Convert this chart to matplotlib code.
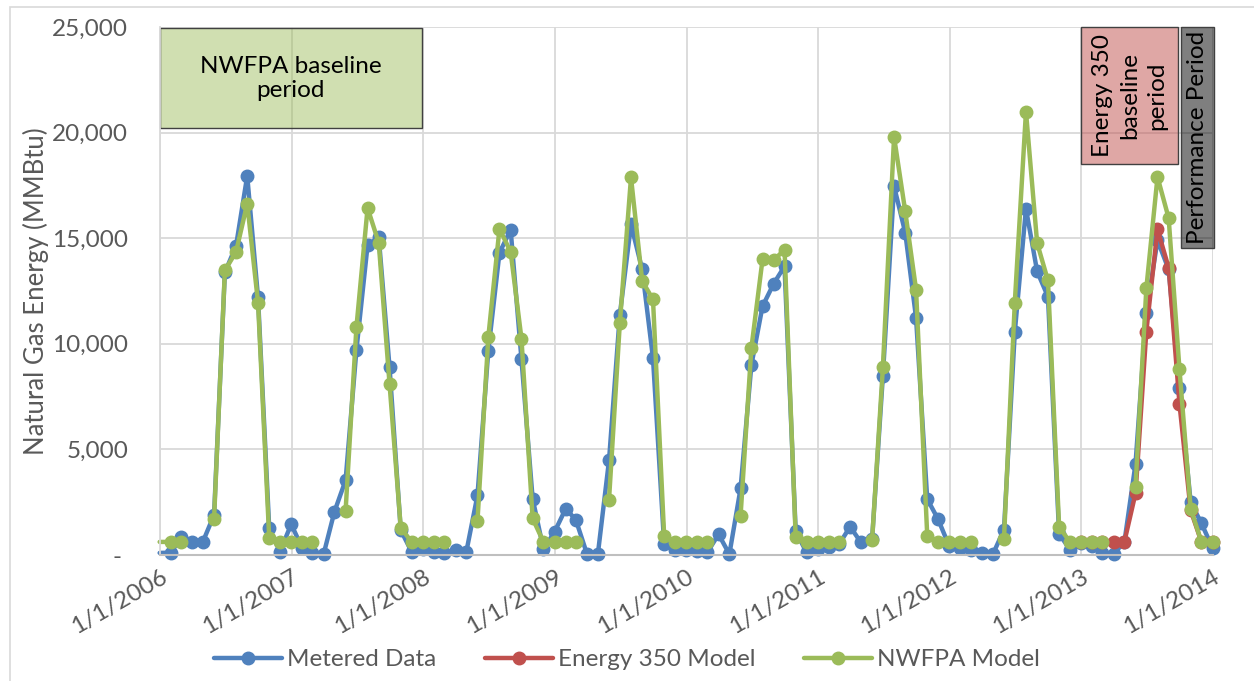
import numpy as np
import pandas as pd
import matplotlib
matplotlib.use('Agg')
import matplotlib.pyplot as plt
import matplotlib.dates as mdates
from matplotlib.patches import Rectangle

nan = np.nan

# month-end readings, 12/31/2005 .. 12/31/2013
dates = pd.date_range('2005-12-31', periods=97, freq='ME')

metered = [
    100,
    110, 830, 630, 630, 1900, 13380, 14640, 17950, 12200, 1290, 160, 1460,     # 2006
    315, 80, 40, 2050, 3540, 9700, 14670, 15050, 8880, 1180, 160, 300,         # 2007
    160, 100, 250, 150, 2830, 9670, 14310, 15400, 9270, 2670, 280, 1100,       # 2008
    2200, 1660, 40, 40, 4480, 11380, 15650, 13520, 9320, 520, 250, 250,        # 2009
    200, 130, 980, 40, 3150, 8990, 11780, 12850, 13670, 1120, 130, 300,        # 2010
    400, 500, 1340, 600, 740, 8500, 17460, 15260, 11230, 2650, 1700, 420,      # 2011
    330, 260, 110, 30, 1200, 10550, 16400, 13430, 12230, 1000, 260, 550,       # 2012
    450, 100, 60, 600, 4320, 11480, 14900, 13520, 7900, 2500, 1500, 320,       # 2013
]

energy350 = [nan] * 84 + [
    620,
    620, 620, 620, 620, 2920, 10580, 15420, 13600, 7150, 2120, 620, 620,       # 2013
]

nwfpa = [
    620,
    620, 620, nan, nan, 1700, 13480, 14350, 16640, 11950, 820, 620, 620,       # 2006
    620, 620, nan, nan, 2100, 10780, 16430, 14780, 8080, 1300, 620, 620,       # 2007
    620, 620, nan, nan, 1620, 10320, 15450, 14350, 10250, 1730, 620, 620,      # 2008
    620, 620, nan, nan, 2620, 10980, 17880, 12980, 12100, 900, 620, 620,       # 2009
    620, 620, nan, nan, 1850, 9800, 14000, 13960, 14460, 840, 620, 620,        # 2010
    620, 620, nan, nan, 700, 8890, 19800, 16270, 12570, 920, 620, 620,         # 2011
    620, 620, nan, nan, 770, 11950, 21000, 14770, 13000, 1330, 620, 620,       # 2012
    620, 620, nan, nan, 3220, 12620, 17900, 15950, 8790, 2200, 620, 620,       # 2013
]

series = [
    ('Metered Data', metered, '#4F81BD'),
    ('Energy 350 Model', energy350, '#C0504D'),
    ('NWFPA Model', nwfpa, '#9BBB59'),
]

plt.rcParams['font.family'] = ['Lato', 'DejaVu Sans']
grey = '#595959'
fs = 17.5

fig = plt.figure(figsize=(12.54, 6.81), dpi=100)
ax = fig.add_axes([0.1276, 0.185, 0.8397, 0.7753])

xmin = pd.Timestamp('2006-01-01')
xmax = pd.Timestamp('2014-01-01')
shown = list(dates >= xmin)

for label, vals, color in series:
    ax.plot(dates, vals, color=color, lw=3.2, marker='o', ms=9,
            markevery=shown, clip_on=False, label=label,
            solid_joinstyle='round', solid_capstyle='round')

ax.set_xlim(xmin, xmax)
ax.set_ylim(0, 25000)

year_ticks = pd.date_range(xmin, xmax, freq='YS')
ax.set_xticks(year_ticks)
ax.set_xticklabels([f'{d.month}/{d.day}/{d.year}' for d in year_ticks],
                   rotation=30, ha='right', va='top', rotation_mode='anchor')
ax.set_yticks(np.arange(0, 25001, 5000))
ax.yaxis.set_major_formatter(lambda v, _: '- ' if v == 0 else f'{v:,.0f}')
ax.tick_params(axis='both', length=0, labelsize=fs, colors=grey)
ax.tick_params(axis='y', pad=23)
ax.tick_params(axis='x', pad=8)

ax.grid(True, color='#d9d9d9', lw=1.3)
ax.set_axisbelow(True)
for s in ['top', 'right']:
    ax.spines[s].set_visible(False)
ax.spines['left'].set_color('#d9d9d9')
ax.spines['left'].set_linewidth(1.3)
ax.spines['bottom'].set_color('#bfbfbf')
ax.spines['bottom'].set_linewidth(1.5)

ax.set_ylabel('Natural Gas Energy (MMBtu)', fontsize=18.5, color=grey)
ax.yaxis.set_label_coords(-0.105, 0.5)


def period_box(start, end, y0, y1, fc, alpha, text, rot=0, ls=1.2):
    x0 = mdates.date2num(pd.Timestamp(start))
    x1 = mdates.date2num(pd.Timestamp(end))
    ax.add_patch(Rectangle((x0, y0), x1 - x0, y1 - y0, facecolor=fc, alpha=alpha,
                           edgecolor='none', zorder=1.5, clip_on=False))
    ax.add_patch(Rectangle((x0, y0), x1 - x0, y1 - y0, fill=False,
                           edgecolor='#404040', lw=1, zorder=1.6, clip_on=False))
    ax.text((x0 + x1) / 2, (y0 + y1) / 2, text, rotation=rot, ha='center', va='center',
            multialignment='center', fontsize=fs, color='black', zorder=1.7,
            linespacing=ls)


period_box('2006-01-01', '2007-12-28', 20200, 24950, '#9BBB59', 0.47,
           'NWFPA baseline\nperiod')
period_box('2013-01-01', '2013-09-27', 18500, 25000, '#C0504D', 0.5,
           'Energy 350\nbaseline\nperiod', rot=90, ls=1.35)
period_box('2013-10-04', '2014-01-05', 14550, 25000, '#000000', 0.5,
           'Performance Period', rot=90)

leg = fig.legend(loc='center', bbox_to_anchor=(0.5, 0.031), ncol=3, frameon=False,
                 fontsize=fs, handlelength=2.8, handletextpad=0.2, columnspacing=2.0)
for t in leg.get_texts():
    t.set_color(grey)

fig.add_artist(Rectangle((10 / 1254, -0.1), 1.2, 1 - 7 / 681 + 0.1,
                         transform=fig.transFigure, fill=False,
                         edgecolor='#d9d9d9', lw=1.2))

fig.savefig('out.png', dpi=100)
